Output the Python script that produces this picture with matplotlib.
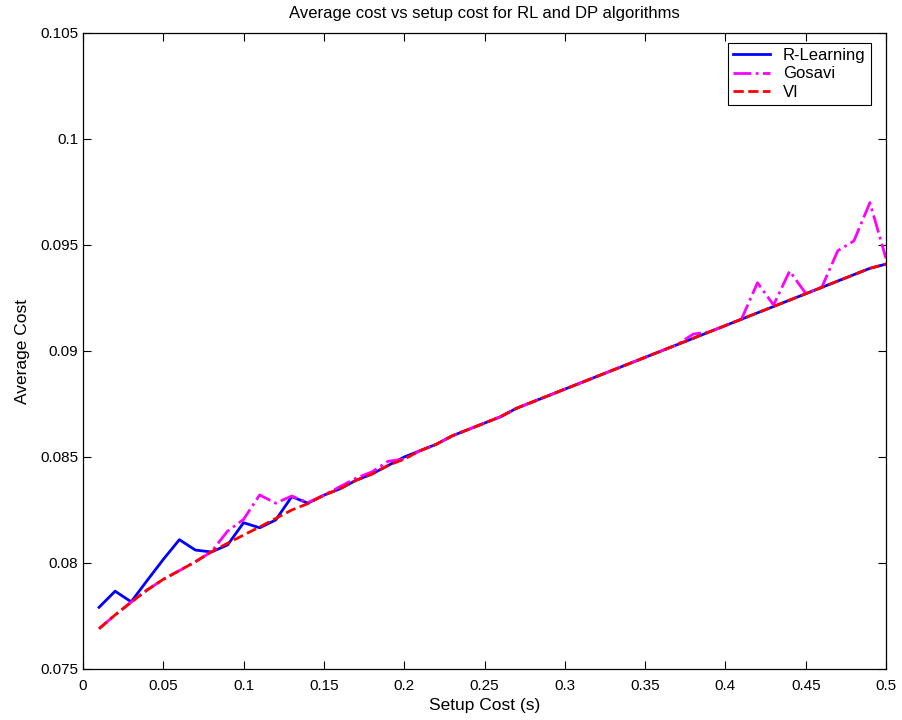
import numpy as np
import matplotlib
matplotlib.use("Agg")
import matplotlib.pyplot as plt

plt.rcParams['font.family'] = ['Liberation Sans', 'DejaVu Sans']

# setup cost grid (s)
setup_cost = np.round(np.arange(1, 51) * 0.01, 2)

# value iteration (DP) average cost
vi_cost = [0.07690, 0.07755, 0.07815, 0.07873, 0.07923, 0.07964, 0.08006, 0.08053, 0.08093, 0.08132,
           0.08170, 0.08210, 0.08250, 0.08280, 0.08320, 0.08350, 0.08390, 0.08420, 0.08460, 0.08490,
           0.08530, 0.08560, 0.08600, 0.08630, 0.08660, 0.08690, 0.08730, 0.08760, 0.08790, 0.08820,
           0.08850, 0.08880, 0.08910, 0.08940, 0.08970, 0.09000, 0.09030, 0.09060, 0.09090, 0.09120,
           0.09150, 0.09180, 0.09210, 0.09240, 0.09270, 0.09300, 0.09330, 0.09360, 0.09390, 0.09410]

# R-Learning average cost
rl_cost = [0.07791, 0.07867, 0.07817, 0.07918, 0.08017, 0.08110, 0.08061, 0.08052, 0.08085, 0.08190,
           0.08166, 0.08203, 0.08313, 0.08282, 0.08320, 0.08350, 0.08390, 0.08420, 0.08460, 0.08500,
           0.08530, 0.08560, 0.08600, 0.08630, 0.08660, 0.08690, 0.08730, 0.08760, 0.08790, 0.08820,
           0.08850, 0.08880, 0.08910, 0.08940, 0.08970, 0.09000, 0.09030, 0.09060, 0.09090, 0.09120,
           0.09150, 0.09180, 0.09210, 0.09240, 0.09270, 0.09300, 0.09330, 0.09360, 0.09390, 0.09410]

# Gosavi's algorithm average cost
gosavi_cost = [0.07690, 0.07755, 0.07815, 0.07873, 0.07923, 0.07964, 0.08006, 0.08053, 0.08150, 0.08206,
               0.08321, 0.08282, 0.08316, 0.08285, 0.08320, 0.08360, 0.08400, 0.08430, 0.08480, 0.08490,
               0.08530, 0.08560, 0.08600, 0.08630, 0.08660, 0.08690, 0.08730, 0.08760, 0.08790, 0.08820,
               0.08850, 0.08880, 0.08910, 0.08940, 0.08970, 0.09000, 0.09030, 0.09080, 0.09090, 0.09120,
               0.09150, 0.09322, 0.09217, 0.09377, 0.09272, 0.09300, 0.09473, 0.09519, 0.09700, 0.09437]

xticks = np.round(np.arange(0, 0.51, 0.05), 2)
xticklabels = ['0', '0.05', '0.1', '0.15', '0.2', '0.25', '0.3', '0.35', '0.4', '0.45', '0.5']
yticks = [0.075, 0.08, 0.085, 0.09, 0.095, 0.1, 0.105]
yticklabels = ['0.075', '0.08', '0.085', '0.09', '0.095', '0.1', '0.105']

fig = plt.figure(figsize=(9.02, 7.2), dpi=100)
ax = fig.add_axes([83 / 902, 1 - 669 / 720, 803 / 902, 636 / 720])

ax.plot(setup_cost, rl_cost, color='#0000ff', lw=2, ls='-', label='R-Learning')
ax.plot(setup_cost, gosavi_cost, color='#ff00ff', lw=2, ls='-.', label='Gosavi')
ax.plot(setup_cost, vi_cost, color='#ff0000', lw=2, ls='--', label='VI')

ax.set_xlim(0, 0.5)
ax.set_ylim(0.075, 0.105)
ax.set_xticks(xticks)
ax.set_xticklabels(xticklabels)
ax.set_yticks(yticks)
ax.set_yticklabels(yticklabels)
ax.tick_params(direction='in', length=6, width=0.8, top=True, right=True, labelsize=11)
ax.tick_params(axis='x', pad=7)
for s in ax.spines.values():
    s.set_linewidth(0.9)

ax.set_title('Average cost vs setup cost for RL and DP algorithms', fontsize=12, pad=11)
ax.set_xlabel('Setup Cost (s)', fontsize=12.5, labelpad=4)
ax.set_ylabel('Average Cost', fontsize=12.5, labelpad=7)

leg = ax.legend(loc='upper left', bbox_to_anchor=((728 - 83) / 803, (669 - 43) / 636),
                fontsize=12, fancybox=False, framealpha=1, edgecolor='black',
                handlelength=2.2, borderpad=0.3, labelspacing=0.2, handletextpad=0.8,
                borderaxespad=0)
leg.get_frame().set_linewidth(0.8)

fig.savefig('out.png', dpi=100)
